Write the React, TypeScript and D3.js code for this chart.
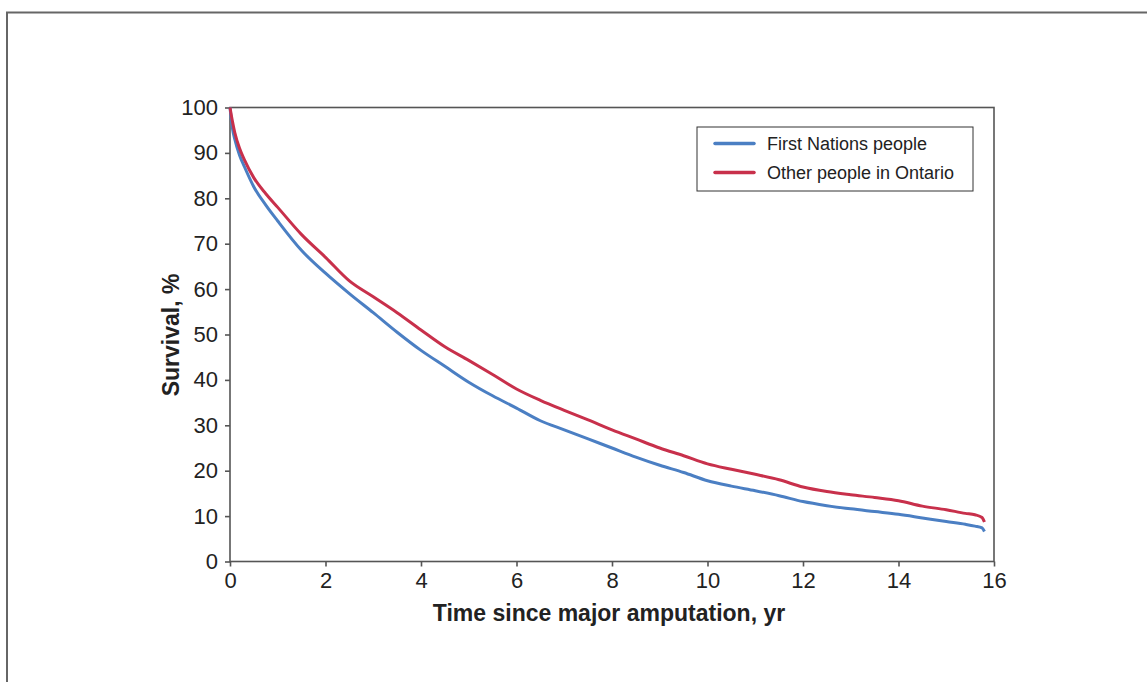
import React, { useEffect, useRef } from "react";
import * as d3 from "d3";

// survival curves (years, %)
const times = [
  0, 0.05, 0.1, 0.2, 0.3, 0.5, 0.75, 1, 1.5, 2, 2.5, 3, 3.5, 4, 4.5, 5, 5.5, 6,
  6.5, 7, 7.5, 8, 8.5, 9, 9.5, 10, 10.5, 11, 11.5, 12, 12.5, 13, 13.5, 14, 14.5,
  15, 15.4, 15.6, 15.75, 15.8,
];
const firstNations = [
  100, 95.5, 93, 89.5, 87, 82.5, 78.5, 75, 68.5, 63.5, 59, 54.8, 50.5, 46.5, 43,
  39.5, 36.5, 33.8, 31, 29, 27, 25, 23, 21.2, 19.6, 17.8, 16.6, 15.6, 14.5, 13.2,
  12.3, 11.6, 11, 10.4, 9.6, 8.8, 8.2, 7.8, 7.4, 6.6,
];
const otherOntario = [
  100, 97, 94.5, 91, 88.5, 84.5, 81, 78, 72, 67, 61.8, 58.3, 54.8, 51, 47.3,
  44.3, 41.2, 38, 35.5, 33.3, 31.2, 29, 27, 25, 23.3, 21.5, 20.3, 19.2, 18, 16.4,
  15.4, 14.7, 14.1, 13.4, 12.2, 11.4, 10.6, 10.3, 9.7, 8.7,
];
const seriesNames = ["First Nations people", "Other people in Ontario"];
const seriesColors = ["#4b7fc3", "#c8304b"];
const xTicks = [0, 2, 4, 6, 8, 10, 12, 14, 16];
const yTicks = [0, 10, 20, 30, 40, 50, 60, 70, 80, 90, 100];

const W = 1147;
const H = 682;
const left = 230;
const right = 994;
const top = 107.5;
const bottom = 561.5;

export default function App() {
  const svgRef = useRef<SVGSVGElement | null>(null);

  useEffect(() => {
    document.body.style.margin = "0";
    const svg = d3.select(svgRef.current);
    svg.selectAll("*").remove();

    const x = d3.scaleLinear().domain([0, 16]).range([left, right]);
    const y = d3.scaleLinear().domain([0, 100]).range([bottom, top]);
    const font = "'Liberation Sans', Arial, Helvetica, sans-serif";
    const axisColor = "#555";

    // outer frame (top + left edge only)
    svg
      .append("path")
      .attr("d", `M7,${H} V12.5 H${W}`)
      .attr("fill", "none")
      .attr("stroke", "#666")
      .attr("stroke-width", 2);

    // plot box
    svg
      .append("rect")
      .attr("x", left)
      .attr("y", top)
      .attr("width", right - left)
      .attr("height", bottom - top)
      .attr("fill", "none")
      .attr("stroke", axisColor)
      .attr("stroke-width", 1.6);

    // y axis
    const gy = svg
      .append("g")
      .attr("transform", `translate(${left},0)`)
      .call(d3.axisLeft(y).tickValues(yTicks).tickSize(5).tickPadding(7));
    gy.select(".domain").remove();
    gy.selectAll("line").attr("stroke", axisColor).attr("stroke-width", 1.6);
    gy.selectAll("text")
      .attr("fill", "#222")
      .style("font-family", font)
      .style("font-size", "22px");

    // x axis
    const gx = svg
      .append("g")
      .attr("transform", `translate(0,${bottom})`)
      .call(d3.axisBottom(x).tickValues(xTicks).tickSize(5).tickPadding(6));
    gx.select(".domain").remove();
    gx.selectAll("line").attr("stroke", axisColor).attr("stroke-width", 1.6);
    gx.selectAll("text")
      .attr("fill", "#222")
      .style("font-family", font)
      .style("font-size", "22px");

    // curves
    const line = d3
      .line<number>()
      .x((_, i) => x(times[i]))
      .y((d) => y(d))
      .curve(d3.curveMonotoneX);
    [firstNations, otherOntario].forEach((s, k) => {
      svg
        .append("path")
        .datum(s)
        .attr("d", line)
        .attr("fill", "none")
        .attr("stroke", seriesColors[k])
        .attr("stroke-width", 3)
        .attr("stroke-linejoin", "round");
    });

    // axis titles
    svg
      .append("text")
      .attr("x", 609)
      .attr("y", 621)
      .attr("text-anchor", "middle")
      .attr("fill", "#222")
      .style("font-family", font)
      .style("font-size", "23px")
      .style("font-weight", "bold")
      .text("Time since major amputation, yr");
    svg
      .append("text")
      .attr("transform", "translate(179,335) rotate(-90)")
      .attr("text-anchor", "middle")
      .attr("fill", "#222")
      .style("font-family", font)
      .style("font-size", "23px")
      .style("font-weight", "bold")
      .text("Survival, %");

    // legend
    const lg = svg.append("g");
    lg.append("rect")
      .attr("x", 697)
      .attr("y", 127)
      .attr("width", 276)
      .attr("height", 64)
      .attr("fill", "#fff")
      .attr("stroke", "#333")
      .attr("stroke-width", 1);
    seriesNames.forEach((name, k) => {
      const ly = 143.5 + k * 29;
      lg.append("line")
        .attr("x1", 715)
        .attr("x2", 754)
        .attr("y1", ly)
        .attr("y2", ly)
        .attr("stroke", seriesColors[k])
        .attr("stroke-width", 3.5)
        .attr("stroke-linecap", "round");
      lg.append("text")
        .attr("x", 767)
        .attr("y", ly + 6.5)
        .attr("fill", "#222")
        .style("font-family", font)
        .style("font-size", "18px")
        .text(name);
    });
  }, []);

  return <svg ref={svgRef} width={W} height={H} style={{ display: "block" }} />;
}
